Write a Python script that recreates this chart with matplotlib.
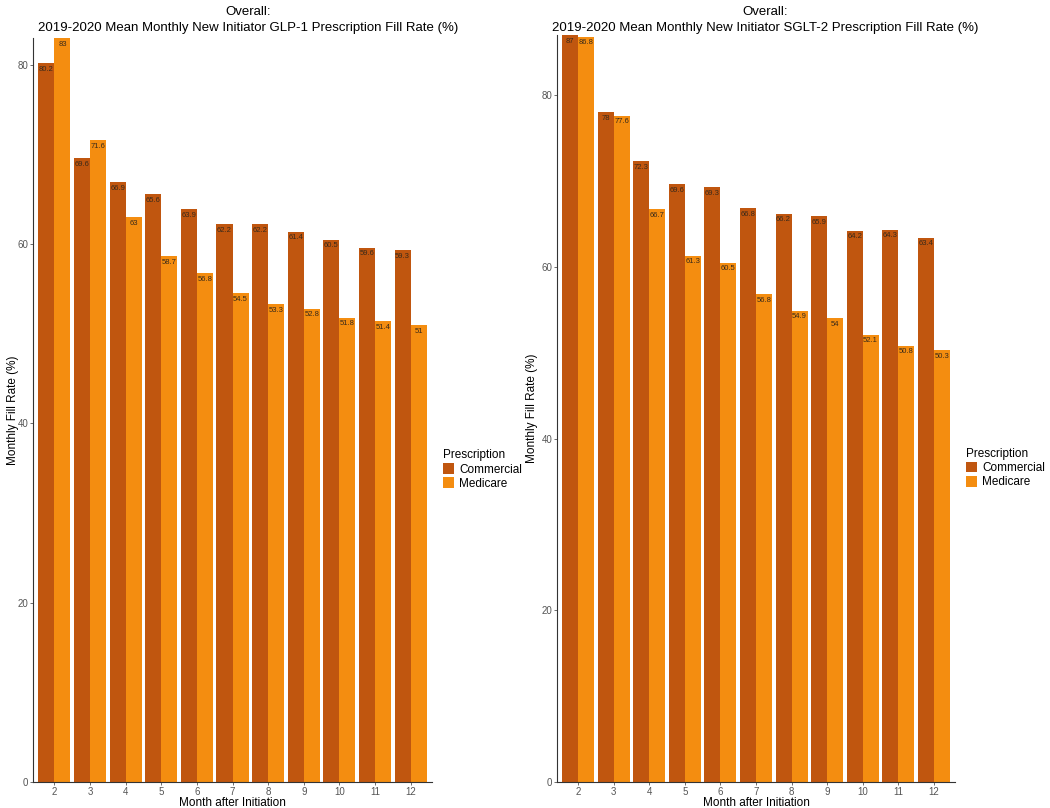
import matplotlib
matplotlib.use("Agg")
import matplotlib.pyplot as plt
import numpy as np
from matplotlib.patches import Patch

plt.rcParams['font.family'] = ['Liberation Sans', 'DejaVu Sans']

months = [2, 3, 4, 5, 6, 7, 8, 9, 10, 11, 12]
glp_commercial = [80.2, 69.6, 66.9, 65.6, 63.9, 62.2, 62.2, 61.4, 60.5, 59.6, 59.3]
glp_medicare = [83, 71.6, 63, 58.7, 56.8, 54.5, 53.3, 52.8, 51.8, 51.4, 51]
sglt_commercial = [87, 78, 72.3, 69.6, 69.3, 66.8, 66.2, 65.9, 64.2, 64.3, 63.4]
sglt_medicare = [86.8, 77.6, 66.7, 61.3, 60.5, 56.8, 54.9, 54, 52.1, 50.8, 50.3]

series_names = ["Commercial", "Medicare"]
colors = ["#C0560F", "#F48D10"]
titles = ["Overall:\n2019-2020 Mean Monthly New Initiator GLP-1 Prescription Fill Rate (%)",
          "Overall:\n2019-2020 Mean Monthly New Initiator SGLT-2 Prescription Fill Rate (%)"]

W, H = 1050, 808
fig = plt.figure(figsize=(10.5, 8.08), dpi=100)
ax1 = fig.add_axes([33 / W, 1 - 782 / H, 399 / W, (782 - 38) / H])
ax2 = fig.add_axes([557 / W, 1 - 782 / H, 398 / W, (782 - 35) / H])

def fmt(v):
    return ("%g" % v)

title_x = [248 / W, 765 / W]

for k, (ax, data, title) in enumerate([(ax1, (glp_commercial, glp_medicare), titles[0]),
                                       (ax2, (sglt_commercial, sglt_medicare), titles[1])]):
    x = np.arange(len(months))
    w = 0.45
    for i, (vals, c) in enumerate(zip(data, colors)):
        pos = x + (i - 0.5) * w
        ax.bar(pos, vals, width=w, color=c, edgecolor='none')
        for p, v in zip(pos, vals):
            ax.text(p, v - 0.3, fmt(v), ha='center', va='top', fontsize=5.5, color='#3a2a1a')
    ymax = max(max(data[0]), max(data[1]))
    ax.set_ylim(0, ymax)
    ax.set_xlim(-0.6, len(months) - 0.4)
    ax.set_xticks(x)
    ax.set_xticklabels([str(m) for m in months])
    ax.set_yticks([0, 20, 40, 60, 80])
    ax.tick_params(axis='both', labelsize=7, colors='#555555', length=2, width=0.6, pad=1.5)
    for s in ['top', 'right']:
        ax.spines[s].set_visible(False)
    for s in ['left', 'bottom']:
        ax.spines[s].set_color('#333333')
        ax.spines[s].set_linewidth(0.8)
    ax.set_xlabel("Month after Initiation", fontsize=8.5, labelpad=0)
    ax.set_ylabel("Monthly Fill Rate (%)", fontsize=8.5, labelpad=2)
    fig.text(title_x[k], 1 - 6 / H, title, ha='center', va='top', fontsize=9.5,
             linespacing=1.4)
    handles = [Patch(facecolor=c, label=n) for n, c in zip(series_names, colors)]
    ax.legend(handles=handles, title="Prescription", loc='center left',
              bbox_to_anchor=(1.0, 0.42), frameon=False, fontsize=8.5,
              title_fontsize=8.5, handlelength=1.0, handleheight=1.0,
              handletextpad=0.4, labelspacing=0.15, alignment='left')

ax1.yaxis.set_label_coords(-0.036, 0.5)

fig.savefig("out.png", dpi=100)
